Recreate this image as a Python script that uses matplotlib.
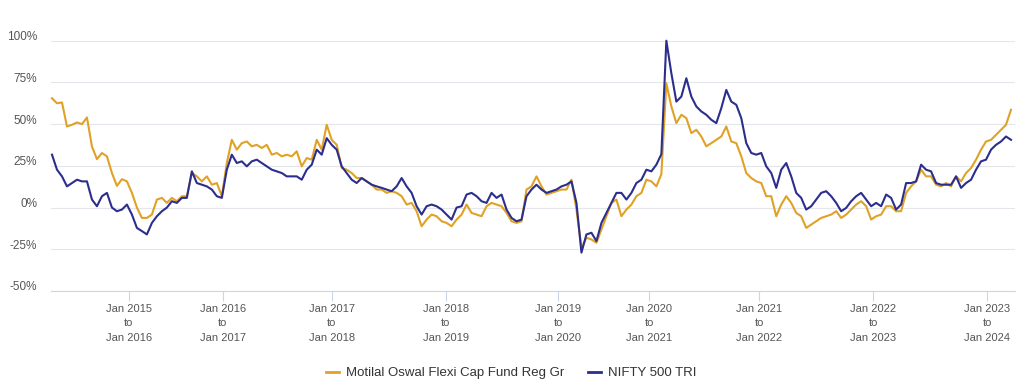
import numpy as np
import matplotlib
matplotlib.use("Agg")
import matplotlib.pyplot as plt
from matplotlib.transforms import ScaledTranslation

# ---- data (rolling 1-year returns, %) ----
fund_name = "Motilal Oswal Flexi Cap Fund Reg Gr"
bench_name = "NIFTY 500 TRI"

fund = [
    65.5, 62.5, 63, 48.6, 49.6, 51, 50, 54, 36.6, 29, 32.7, 30.7, 20.7, 13, 17, 15.7, 8.8, 0, -6.2, -6.2, -4.2, 4.8, 5.8, 2.8,
    5.8, 3.8, 6.8, 6.8, 20.7, 18.7, 15.7, 18.7, 13.7, 14.7, 6.8, 26.7, 40.6, 34.7, 38.6, 39.6, 36.7, 37.6, 35.7, 37.6, 31.7, 32.7, 30.7, 31.7,
    30.7, 33.7, 24.7, 29.7, 28.7, 40.6, 34.7, 49.6, 40.6, 37.6, 23.7, 22.7, 20.7, 17.7, 17.7, 15.7, 13.7, 10.8, 10.8, 8.8, 9.8, 8.8, 6.8, 1.8,
    2.8, -2.2, -11.2, -7.2, -4.2, -5.2, -8.2, -9.2, -11.2, -7.2, -4.2, 1.8, -3.2, -4.2, -5.2, 0.8, 2.8, 1.8, 0.8, -3.2, -8.2, -9.2, -8.2, 10.8,
    12.7, 18.7, 12.7, 7.8, 8.8, 9.8, 10.8, 10.8, 16.7, -1.2, -24.1, -18.1, -19.1, -21.1, -13.1, -5.2, 2.8, 4.8, -5.2, -1.2, 1.8, 6.8, 8.8, 16.7,
    15.7, 12.7, 20, 74.5, 60.6, 50.6, 55.6, 53.6, 44.6, 46.6, 42.6, 36.7, 38.6, 40.6, 42.6, 48.6, 39.6, 38.6, 30.7, 20.7, 17.7, 15.7, 14.7, 6.8,
    6.8, -5.2, 1.8, 6.8, 2.8, -3.2, -5.2, -12.2, -10.2, -8.2, -6.2, -5.2, -4.2, -2.2, -6.2, -4.2, -1.2, 1.8, 3.8, 0.8, -7.2, -5.2, -4.2, 0.8,
    0.8, -2.2, -2.2, 8.8, 12.7, 15.7, 22.7, 18.7, 18.7, 13.7, 12.7, 14.7, 12.7, 18.7, 15.7, 20.7, 23.7, 28.7, 34.7, 39.6, 40.6, 43.6, 46.6, 49.6, 58.6,
]

bench = [
    31.7, 22.7, 18.7, 12.7, 14.7, 16.7, 15.7, 15.7, 4.8, 0.8, 6.8, 8.8, 0, -2.2, -1.2, 1.8, -4.2, -12.2, -14.1, -16.1, -9.2, -5.2, -2.2, 0,
    3.8, 2.8, 5.8, 5.8, 21.7, 14.7, 13.7, 12.7, 10.8, 6.8, 5.8, 22.7, 31.7, 26.7, 27.7, 24.7, 27.7, 28.7, 26.7, 24.7, 22.7, 21.7, 20.7, 18.7,
    18.7, 18.7, 16.7, 22.7, 25.7, 34.7, 31.7, 41.6, 37.6, 34.7, 24.7, 20.7, 16.7, 14.7, 17.7, 15.7, 13.7, 12.7, 11.8, 10.8, 9.8, 12.7, 17.7, 12.7,
    8.8, 0.8, -4.2, 0.8, 1.8, 0.8, -1.2, -4.2, -7.2, 0, 0.8, 7.8, 8.8, 6.8, 3.8, 2.8, 8.8, 5.8, 7.8, -1.2, -6.2, -8.2, -7.2, 6.8,
    10.8, 13.7, 10.8, 8.8, 9.8, 10.8, 12.7, 13.7, 15.7, 2.8, -27, -16.1, -15.1, -20.1, -9.2, -3.2, 2.8, 8.8, 8.8, 4.8, 8.8, 14.7, 16.7, 22.7,
    21.7, 25.7, 32, 100, 80.5, 63.5, 66.5, 77.5, 66.5, 60.6, 57.6, 55.6, 52.6, 50.6, 59.6, 70.5, 63.5, 61.6, 53.6, 38.6, 32.7, 31.7, 32.7, 24.7,
    20.7, 11.8, 22.7, 26.7, 18.7, 8.8, 5.8, -1.2, 0.8, 4.8, 8.8, 9.8, 6.8, 2.8, -2.2, -0.2, 3.8, 6.8, 8.8, 4.8, 0.8, 2.8, 0.8, 7.8,
    5.8, -1.2, 1.8, 14.7, 14.7, 15.7, 25.7, 22.7, 21.7, 14.7, 13.7, 13.7, 13.7, 18.7, 11.8, 14.7, 16.7, 22.7, 27.7, 28.7, 34.7, 37.6, 39.6, 42.6, 40.6,
]

tick_labels = [
    "Jan 2015\nto\nJan 2016", "Jan 2016\nto\nJan 2017", "Jan 2017\nto\nJan 2018",
    "Jan 2018\nto\nJan 2019", "Jan 2019\nto\nJan 2020", "Jan 2020\nto\nJan 2021",
    "Jan 2021\nto\nJan 2022", "Jan 2022\nto\nJan 2023", "Jan 2023\nto\nJan 2024",
]
tick_index = [15.4, 34.2, 56.0, 78.8, 101.4, 119.6, 141.6, 164.4, 187.2]

y_ticks = [-50, -25, 0, 25, 50, 75, 100]
y_labels = ["-50%", "-25%", "0%", "25%", "50%", "75%", "100%"]

# ---- styling ----
GOLD = "#e0a226"
NAVY = "#2b2e8c"
GRID = "#e3e6ea"
AXIS = "#ccd6eb"
TXT = "#555555"

plt.rcParams["font.family"] = ["Liberation Sans", "DejaVu Sans"]

W, H = 1023, 388
fig = plt.figure(figsize=(W / 100, H / 100), dpi=100)
left, right, top, bottom = 51, 1015, 40.7, 291
ax = fig.add_axes([left / W, 1 - bottom / H, (right - left) / W, (bottom - top) / H])

x = np.arange(len(fund))
ax.plot(x, fund, color=GOLD, lw=1.5, solid_joinstyle="round", clip_on=False, zorder=3)
ax.plot(x, bench, color=NAVY, lw=1.5, solid_joinstyle="round", clip_on=False, zorder=4)

ax.set_xlim(-0.2, 192.8)
ax.set_ylim(-50, 100)

ax.set_yticks(y_ticks)
ax.set_yticklabels(y_labels, fontsize=8.5, color=TXT)
ax.tick_params(axis="y", length=0, pad=10)
offset = ScaledTranslation(0, 5 / 100, fig.dpi_scale_trans)
for lab in ax.get_yticklabels():
    lab.set_transform(lab.get_transform() + offset)

ax.set_xticks(tick_index)
ax.set_xticklabels(tick_labels, fontsize=8, color=TXT, linespacing=1.6)
ax.tick_params(axis="x", length=7, width=0.8, color=AXIS, pad=2, direction="out")

ax.grid(axis="y", color=GRID, lw=0.8)
ax.set_axisbelow(True)
for s in ["top", "right", "left"]:
    ax.spines[s].set_visible(False)
ax.spines["bottom"].set_color(AXIS)
ax.spines["bottom"].set_linewidth(0.8)
ax.spines["bottom"].set_zorder(1)

leg = fig.legend(
    [plt.Line2D([], [], color=GOLD, lw=2), plt.Line2D([], [], color=NAVY, lw=2)],
    [fund_name, bench_name],
    loc="center", bbox_to_anchor=(511 / W, 1 - 373 / H), ncol=2, frameon=False,
    fontsize=9.5, handlelength=1.0, handletextpad=0.5, columnspacing=1.8,
)
for t in leg.get_texts():
    t.set_color("#333333")

fig.savefig("out.png", dpi=100)
